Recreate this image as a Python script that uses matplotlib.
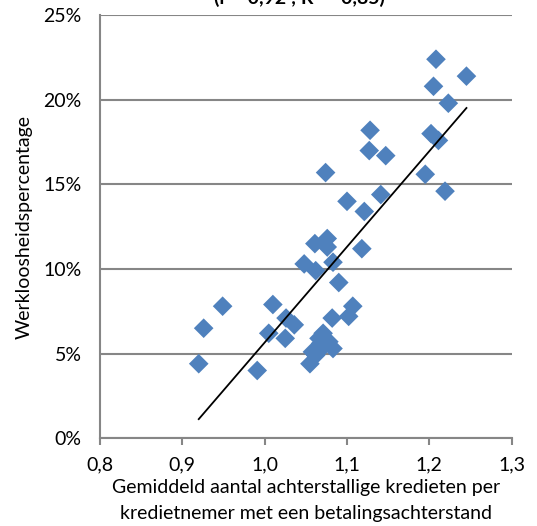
import numpy as np
import matplotlib
matplotlib.use("Agg")
import matplotlib.pyplot as plt
from matplotlib.ticker import FuncFormatter

# gemiddeld aantal achterstallige kredieten per kredietnemer vs werkloosheid (%)
krediet = [0.920, 0.926, 0.949, 0.991, 1.005, 1.010, 1.025, 1.026, 1.036,
           1.048, 1.055, 1.061, 1.062, 1.062, 1.066, 1.071, 1.071, 1.074,
           1.076, 1.076, 1.082, 1.083, 1.083, 1.090, 1.100, 1.102, 1.107,
           1.118, 1.121, 1.127, 1.128, 1.141, 1.147, 1.195, 1.202, 1.205,
           1.208, 1.211, 1.219, 1.223, 1.245, 1.068, 1.078, 1.058]
werkloos = [4.4, 6.5, 7.8, 4.0, 6.2, 7.9, 5.9, 7.1, 6.7,
            10.3, 4.4, 11.5, 9.9, 4.9, 5.9, 6.2, 5.4, 15.7,
            11.8, 11.3, 7.1, 10.4, 5.3, 9.2, 14.0, 7.2, 7.8,
            11.2, 13.4, 17.0, 18.2, 14.4, 16.7, 15.6, 18.0, 20.8,
            22.4, 17.6, 14.6, 19.8, 21.4, 5.6, 5.7, 5.1]

xticks = [0.8, 0.9, 1.0, 1.1, 1.2, 1.3]
yticks = [0, 5, 10, 15, 20, 25]

title = "(r = 0,92 ; R² = 0,85)"
xlabel = "Gemiddeld aantal achterstallige kredieten per\nkredietnemer met een betalingsachterstand"
ylabel = "Werkloosheidspercentage"

plt.rcParams['font.family'] = ['Lato', 'DejaVu Sans']
grey = '#868686'

fig = plt.figure(figsize=(5.37, 5.26), dpi=100)
ax = fig.add_axes([0.186, 0.167, 0.767, 0.804])

ax.scatter(krediet, werkloos, marker='D', s=100, color='#4F81BD',
           edgecolors='none', zorder=3)

# lineaire trendlijn
a, b = np.polyfit(krediet, werkloos, 1)
xs = np.array([min(krediet), max(krediet)])
ax.plot(xs, a * xs + b, color='black', lw=1.3, zorder=4)

ax.set_xlim(0.8, 1.3)
ax.set_ylim(0, 25)
ax.set_xticks(xticks)
ax.set_yticks(yticks)
ax.xaxis.set_major_formatter(FuncFormatter(lambda v, p: f"{v:.1f}".replace('.', ',')))
ax.yaxis.set_major_formatter(FuncFormatter(lambda v, p: f"{v:.0f}%"))

ax.grid(axis='y', color=grey, lw=1.5)
ax.set_axisbelow(True)
for s in ['top', 'right']:
    ax.spines[s].set_visible(False)
for s in ['left', 'bottom']:
    ax.spines[s].set_color(grey)
    ax.spines[s].set_linewidth(1.5)
ax.tick_params(axis='both', colors=grey, width=1.5, length=5, labelsize=14,
               labelcolor='black', pad=8)
ax.tick_params(axis='y', length=0, pad=13)

ax.set_xlabel(xlabel, fontsize=14, linespacing=1.63, labelpad=4)
ax.set_ylabel(ylabel, fontsize=14, labelpad=8)

fig.text(299 / 537, 1.005, title, ha='center', va='center', fontsize=14,
         fontweight='bold')

fig.savefig('out.png', dpi=100)
